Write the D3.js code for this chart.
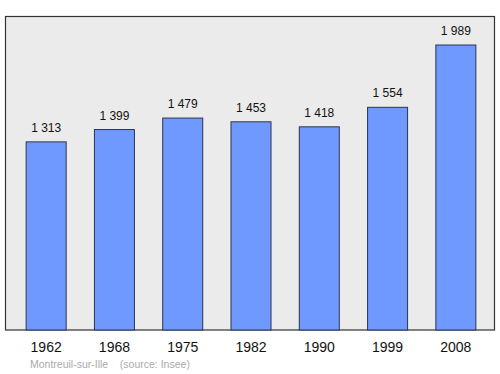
<!DOCTYPE html>
<html>
<head>
<meta charset="utf-8">
<script src="https://cdn.jsdelivr.net/npm/d3@7"></script>
<style>
  body { margin: 0; background: #fff; }
  svg text { font-family: "Liberation Sans", Arial, sans-serif; }
</style>
</head>
<body>
<div id="chart"></div>
<script>
// Population data
const years = ['1962', '1968', '1975', '1982', '1990', '1999', '2008'];
const population = [1313, 1399, 1479, 1453, 1418, 1554, 1989];
const caption = 'Montreuil-sur-Ille    (source: Insee)';

const width = 500;
const height = 374;
const frame = { left: 5.5, top: 16.5, right: 494.5, bottom: 330 };

const svg = d3.select('#chart').append('svg')
    .attr('width', width)
    .attr('height', height);

// Plot background
svg.append('rect')
    .attr('x', frame.left)
    .attr('y', frame.top)
    .attr('width', frame.right - frame.left)
    .attr('height', frame.bottom - frame.top)
    .attr('fill', '#ebebeb')
    .attr('stroke', '#333')
    .attr('stroke-width', 1.2);

const xScale = d3.scaleBand()
    .domain(years)
    .range([12, 490])
    .paddingInner(0.414)
    .paddingOuter(0.207);

const yScale = d3.scaleLinear()
    .domain([0, d3.max(population) * 1.1])
    .range([frame.bottom, frame.top]);

const data = years.map((y, i) => ({ year: y, value: population[i] }));

// Bars
svg.selectAll('.bar')
    .data(data)
    .join('rect')
    .attr('class', 'bar')
    .attr('x', d => xScale(d.year))
    .attr('y', d => yScale(d.value))
    .attr('width', xScale.bandwidth())
    .attr('height', d => frame.bottom - yScale(d.value))
    .attr('fill', '#7099ff')
    .attr('stroke', '#2a3550')
    .attr('stroke-width', 1);

// Value labels
svg.selectAll('.value-label')
    .data(data)
    .join('text')
    .attr('class', 'value-label')
    .attr('x', d => xScale(d.year) + xScale.bandwidth() / 2)
    .attr('y', d => yScale(d.value) - 10)
    .attr('text-anchor', 'middle')
    .attr('font-size', '12px')
    .attr('fill', '#111')
    .text(d => d3.format(',')(d.value).replace(',', ' '));

// X axis labels
svg.selectAll('.year-label')
    .data(data)
    .join('text')
    .attr('class', 'year-label')
    .attr('x', d => xScale(d.year) + xScale.bandwidth() / 2)
    .attr('y', 352)
    .attr('text-anchor', 'middle')
    .attr('font-size', '14px')
    .attr('fill', '#111')
    .text(d => d.year);

// Caption
svg.append('text')
    .attr('x', 30)
    .attr('y', 368)
    .attr('font-size', '10.5px')
    .attr('fill', '#aaa')
    .attr('xml:space', 'preserve')
    .style('white-space', 'pre')
    .text(caption);
</script>
</body>
</html>
